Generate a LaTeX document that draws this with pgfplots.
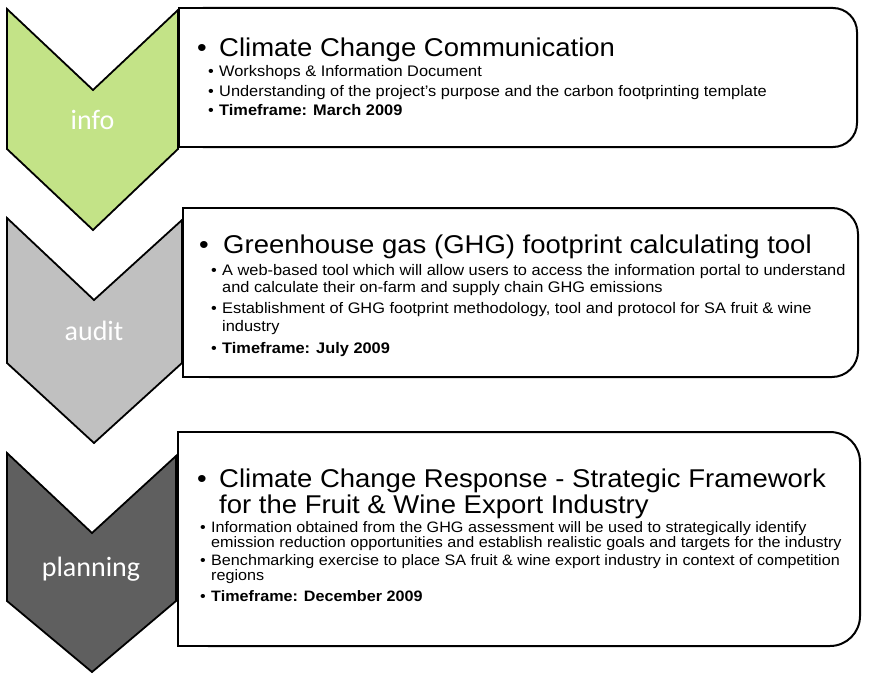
\documentclass[border=0pt]{standalone}
\usepackage{pgfplots}
\pgfplotsset{compat=1.18}
\usepackage{fontspec}
\setmainfont{Liberation Sans}
\newfontfamily\bodyfam{Liberation Sans}[FakeStretch=1.07]
\newfontfamily\labfam{Carlito}
\definecolor{cgreen}{RGB}{195,227,135}
\definecolor{clight}{RGB}{192,192,192}
\definecolor{cdark}{RGB}{95,95,95}
\newcommand{\tf}{\bodyfam\fontsize{25.7}{28}\selectfont}
\newcommand{\bfn}{\bodyfam\fontsize{15.3}{17}\selectfont}
\newcommand{\bfs}{\bodyfam\fontsize{15.1}{17}\selectfont}
\newcommand{\lf}{\labfam\fontsize{28}{30}\selectfont}
\begin{document}
\begin{tikzpicture}
\begin{axis}[hide axis, scale only axis, width=869pt, height=674pt,
  xmin=0, xmax=869, ymin=0, ymax=674, y dir=reverse, clip=false]
\addplot[draw=none] coordinates {(0,0) (869,674)};
% chevrons
\addplot[fill=cgreen, draw=black, line width=1.8pt, line join=miter] coordinates {(7,9) (93,90) (178,10) (178,149) (93,230) (7,149)} -- cycle;
\addplot[fill=clight, draw=black, line width=1.8pt, line join=miter] coordinates {(7,218) (94,300) (182,220) (182,363) (94,443) (7,363)} -- cycle;
\addplot[fill=cdark, draw=black, line width=1.8pt, line join=miter] coordinates {(7,453) (92,533) (176,456) (176,601) (92,672) (7,601)} -- cycle;
% boxes: rounded rectangle + square left part
\addplot[fill=white, draw=black, line width=2pt, rounded corners=24pt] coordinates {(179,8) (857,8) (857,147) (179,147)} -- cycle;
\addplot[fill=white, draw=none] coordinates {(178,7) (260,7) (260,148) (178,148)} -- cycle;
\addplot[draw=black, line width=2pt, line join=miter] coordinates {(261,8) (179,8) (179,147) (261,147)};
\addplot[fill=white, draw=black, line width=2pt, rounded corners=26pt] coordinates {(183,208) (858,208) (858,377) (183,377)} -- cycle;
\addplot[fill=white, draw=none] coordinates {(182,207) (260,207) (260,378) (182,378)} -- cycle;
\addplot[draw=black, line width=2pt, line join=miter] coordinates {(261,208) (183,208) (183,377) (261,377)};
\addplot[fill=white, draw=black, line width=2pt, rounded corners=30pt] coordinates {(178,432) (860,432) (860,646) (178,646)} -- cycle;
\addplot[fill=white, draw=none] coordinates {(177,431) (260,431) (260,647) (177,647)} -- cycle;
\addplot[draw=black, line width=2pt, line join=miter] coordinates {(261,432) (178,432) (178,646) (261,646)};
% labels
\node[anchor=base, text=white, font=\lf] at (axis cs:92.5,129) {info};
\node[anchor=base, text=white, font=\lf] at (axis cs:94,340) {audit};
\node[anchor=base, text=white, font=\lf] at (axis cs:91,576) {planning};
% box 1
\node[anchor=base west, inner sep=0pt, font=\tf] at (axis cs:197,57) {•};
\node[anchor=base west, inner sep=0pt, font=\tf] at (axis cs:219,57) {Climate Change Communication};
\node[anchor=base west, inner sep=0pt, font=\bfn] at (axis cs:208,77) {•};
\node[anchor=base west, inner sep=0pt, font=\bfn] at (axis cs:219,77) {Workshops \& Information Document};
\node[anchor=base west, inner sep=0pt, font=\bfn] at (axis cs:208,97) {•};
\node[anchor=base west, inner sep=0pt, font=\bfn] at (axis cs:219,97) {Understanding of the project’s purpose and the carbon footprinting template};
\node[anchor=base west, inner sep=0pt, font=\bfn] at (axis cs:208,116) {•};
\node[anchor=base west, inner sep=0pt, font=\bfn\bfseries] at (axis cs:219,116) {Timeframe: March 2009};
% box 2
\node[anchor=base west, inner sep=0pt, font=\tf] at (axis cs:199,253) {•};
\node[anchor=base west, inner sep=0pt, font=\tf] at (axis cs:223,253) {Greenhouse gas (GHG) footprint calculating tool};
\node[anchor=base west, inner sep=0pt, font=\bfn] at (axis cs:211,275) {•};
\node[anchor=base west, inner sep=0pt, font=\bfn] at (axis cs:222,275) {A web-based tool which will allow users to access the information portal to understand};
\node[anchor=base west, inner sep=0pt, font=\bfn] at (axis cs:222,292) {and calculate their on-farm and supply chain GHG emissions};
\node[anchor=base west, inner sep=0pt, font=\bfn] at (axis cs:211,313) {•};
\node[anchor=base west, inner sep=0pt, font=\bfn] at (axis cs:222,313) {Establishment of GHG footprint methodology, tool and protocol for SA fruit \& wine};
\node[anchor=base west, inner sep=0pt, font=\bfn] at (axis cs:222,331) {industry};
\node[anchor=base west, inner sep=0pt, font=\bfn] at (axis cs:211,353) {•};
\node[anchor=base west, inner sep=0pt, font=\bfn\bfseries] at (axis cs:222,353) {Timeframe: July 2009};
% box 3
\node[anchor=base west, inner sep=0pt, font=\tf] at (axis cs:197,487) {•};
\node[anchor=base west, inner sep=0pt, font=\tf] at (axis cs:219,487) {Climate Change Response - Strategic Framework};
\node[anchor=base west, inner sep=0pt, font=\tf] at (axis cs:219,513) {for the Fruit \& Wine Export Industry};
\node[anchor=base west, inner sep=0pt, font=\bfs] at (axis cs:200,532) {•};
\node[anchor=base west, inner sep=0pt, font=\bfs] at (axis cs:211,532) {Information obtained from the GHG assessment will be used to strategically identify};
\node[anchor=base west, inner sep=0pt, font=\bfs] at (axis cs:211,547) {emission reduction opportunities and establish realistic goals and targets for the industry};
\node[anchor=base west, inner sep=0pt, font=\bfs] at (axis cs:200,565) {•};
\node[anchor=base west, inner sep=0pt, font=\bfs] at (axis cs:211,565) {Benchmarking exercise to place SA fruit \& wine export industry in context of competition};
\node[anchor=base west, inner sep=0pt, font=\bfs] at (axis cs:211,580) {regions};
\node[anchor=base west, inner sep=0pt, font=\bfs] at (axis cs:200,601) {•};
\node[anchor=base west, inner sep=0pt, font=\bfs\bfseries] at (axis cs:211,601) {Timeframe: December 2009};
\end{axis}
\end{tikzpicture}
\end{document}
